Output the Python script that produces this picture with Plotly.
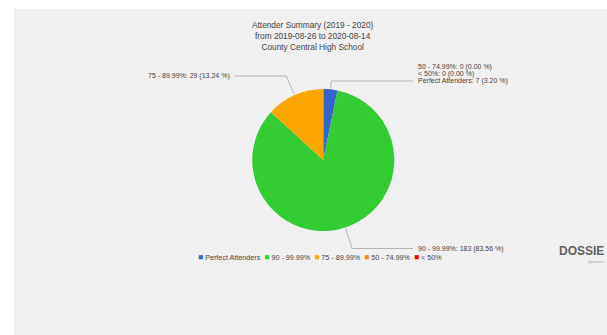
import math
import plotly.graph_objects as go

# ---------------- data ----------------
categories = ["Perfect Attenders", "90 - 99.99%", "75 - 89.99%", "50 - 74.99%", "< 50%"]
counts = [7, 183, 29, 0, 0]
colors = ["#3366cc", "#33cc33", "#ffa500", "#f08c1c", "#ff0000"]
title_lines = ["Attender Summary (2019 - 2020)", "from 2019-08-26 to 2020-08-14", "County Central High School"]

# ---------------- layout constants (pixels) ----------------
W, H = 607, 335
CX, CY, R = 323.3, 160.0, 71.0
# label line heights (px) for each category
label_y = {"Perfect Attenders": 81, "90 - 99.99%": 248.5, "75 - 89.99%": 76,
           "50 - 74.99%": 66.5, "< 50%": 74}
RIGHT_LINE_END, RIGHT_TEXT_X = 413, 416
LEFT_LINE_END, LEFT_TEXT_X = 234, 232


def px(x):
    return x / W


def py(y):
    return 1 - y / H


total = sum(counts)
fig = go.Figure()

fig.add_trace(go.Pie(
    labels=categories, values=counts, sort=False, direction="clockwise", rotation=0,
    marker=dict(colors=colors, line=dict(width=0)),
    textinfo="none", hoverinfo="label+value+percent", showlegend=False,
    domain=dict(x=[px(CX - R), px(CX + R)], y=[py(CY + R), py(CY - R)]),
))

shapes = [dict(type="rect", xref="paper", yref="paper", x0=px(14), x1=1, y0=0, y1=py(9),
               fillcolor="#f0f0f0", line=dict(width=0), layer="below")]
annotations = []

cum = 0.0
for cat, v in zip(categories, counts):
    frac = v / total
    mid = (cum + frac / 2) * 2 * math.pi
    cum += frac
    pct = 100 * frac
    text = f"{cat}: {v} ({pct:.2f} %)"
    ly = label_y[cat]
    s, c = math.sin(mid), math.cos(mid)
    right = s >= -1e-6
    if v > 0:
        ex, ey = CX + (R + 1) * s, CY - (R + 1) * c
        d = (CY - ly) / c
        bx = CX + d * s
        endx = RIGHT_LINE_END if right else LEFT_LINE_END
        path = f"M {px(ex)},{py(ey)} L {px(bx)},{py(ly)} L {px(endx)},{py(ly)}"
        shapes.append(dict(type="path", xref="paper", yref="paper", path=path,
                           line=dict(color="#b4b4b4", width=1)))
    annotations.append(dict(
        x=px(RIGHT_TEXT_X if right else LEFT_TEXT_X), y=py(ly), xref="paper", yref="paper",
        text=text, showarrow=False, xanchor="left" if right else "right", yanchor="middle",
        font=dict(size=7, color="#444", family="Liberation Sans, Arial"),
    ))

# title
annotations.append(dict(
    x=px(313), y=py(36.5), xref="paper", yref="paper", text="<br>".join(title_lines),
    showarrow=False, xanchor="center", yanchor="middle", align="center",
    font=dict(size=8.3, color="#444", family="Liberation Sans, Arial"),
))

# legend (manual)
parts = [f"<span style='color:{col};font-size:8.5px'>■</span> {cat}" for cat, col in zip(categories, colors)]
annotations.append(dict(
    x=px(320), y=py(257), xref="paper", yref="paper", text="  ".join(parts),
    showarrow=False, xanchor="center", yanchor="middle",
    font=dict(size=7.2, color="#444", family="Liberation Sans, Arial"),
))

# logo (partially visible in the reference)
annotations.append(dict(
    x=px(606), y=py(251), xref="paper", yref="paper", text="<b>DOSSIE</b>",
    showarrow=False, xanchor="right", yanchor="middle",
    font=dict(size=12, color="#606060", family="Liberation Sans, Arial"),
))
annotations.append(dict(
    x=px(586), y=py(261), xref="paper", yref="paper", text="dynamics",
    showarrow=False, xanchor="left", yanchor="middle",
    font=dict(size=4, color="#aaa", family="Liberation Sans, Arial"),
))

fig.update_layout(
    width=W, height=H, margin=dict(l=0, r=0, t=0, b=0),
    paper_bgcolor="white", plot_bgcolor="white",
    shapes=shapes, annotations=annotations, showlegend=False,
)

fig.write_html("out.html")
